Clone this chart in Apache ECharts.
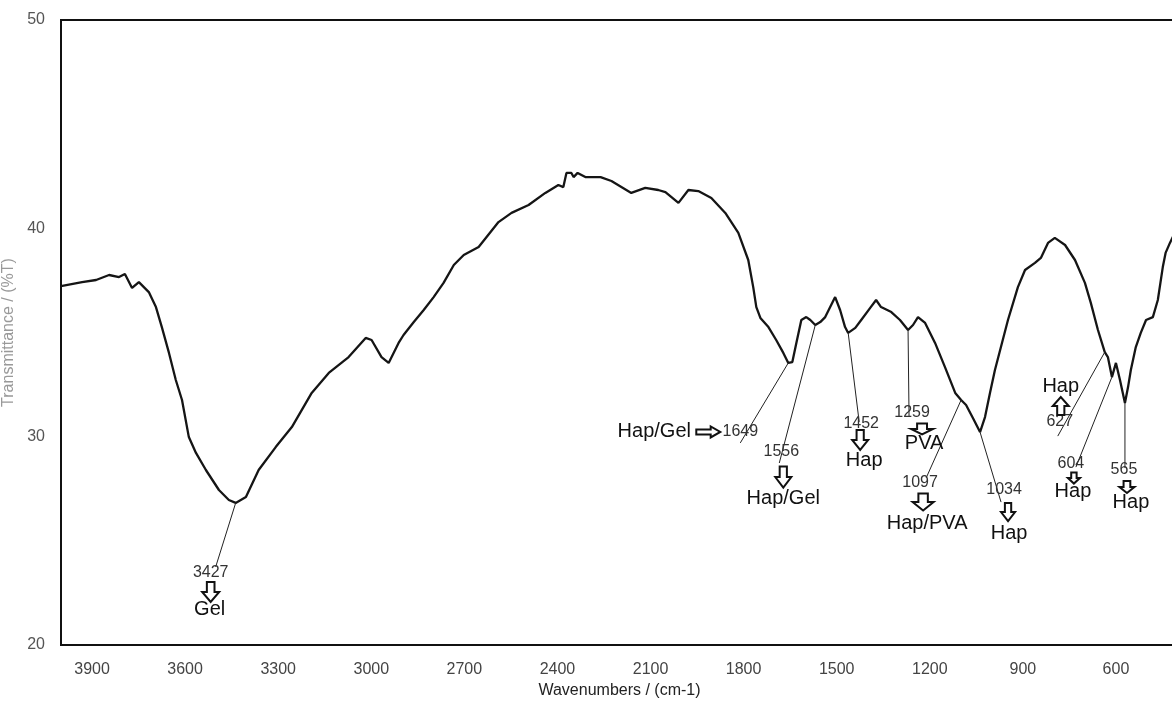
<!DOCTYPE html>
<html>
<head>
<meta charset="utf-8">
<script src="https://cdn.jsdelivr.net/npm/echarts@6/dist/echarts.min.js"></script>
<style>
html,body{margin:0;padding:0;background:#fff;}
#chart{width:1172px;height:705px;}
</style>
</head>
<body>
<div id="chart"></div>
<script>
// ---- Data ----
const wavenumbers = [4000,3932,3887,3845,3813,3794,3771,3749,3717,3694,
3675,3652,3630,3610,3588,3565,3533,3491,3459,3437,
3404,3363,3308,3256,3192,3137,3073,3018,2999,2967,
2944,2912,2896,2863,2831,2799,2767,2734,2702,2654,
2590,2548,2493,2439,2397,2381,2371,2355,2348,2335,
2310,2261,2226,2162,2117,2075,2052,2010,1978,1946,
1904,1859,1817,1785,1769,1759,1746,1720,1695,1672,
1656,1643,1630,1614,1598,1585,1569,1553,1537,1521,
1505,1489,1473,1463,1440,1421,1392,1373,1357,1324,
1296,1270,1254,1238,1215,1183,1151,1118,1099,1083,
1061,1038,1022,1006,990,948,916,893,861,842,
819,797,764,732,700,681,658,636,626,613,
600,587,571,561,552,536,520,503,481,465,
449,440,426,413];
const transmittance = [37.23,37.42,37.52,37.76,37.66,37.81,37.14,37.42,36.94,36.22,
35.26,34.02,32.72,31.76,29.98,29.22,28.40,27.44,26.96,26.82,
27.10,28.40,29.50,30.46,32.10,33.06,33.82,34.74,34.64,33.82,
33.54,34.50,34.88,35.50,36.08,36.70,37.38,38.24,38.72,39.10,
40.30,40.74,41.12,41.70,42.08,41.98,42.66,42.66,42.46,42.66,
42.46,42.46,42.27,41.70,41.94,41.84,41.74,41.22,41.84,41.79,
41.46,40.74,39.78,38.48,37.18,36.22,35.70,35.26,34.64,34.02,
33.54,33.58,34.50,35.60,35.74,35.60,35.36,35.50,35.74,36.22,
36.70,36.08,35.26,34.98,35.22,35.60,36.18,36.56,36.22,35.98,
35.60,35.12,35.36,35.74,35.46,34.50,33.34,32.10,31.76,31.52,
30.90,30.22,30.94,32.10,33.20,35.60,37.18,38.00,38.34,38.58,
39.30,39.54,39.20,38.48,37.38,36.42,35.12,34.06,33.82,32.86,
33.54,32.72,31.62,32.38,33.20,34.30,34.98,35.60,35.74,36.56,
38.14,38.82,39.30,39.70];

const xTickLabels = [3900,3600,3300,3000,2700,2400,2100,1800,1500,1200,900,600];
const yTickLabels = [20,30,40,50];

const peakLabels  = ['3427','1649','1556','1452','1259','1097','1034','627','604','565'];
const peakGroups  = ['Gel','Hap/Gel','Hap/Gel','Hap','PVA','Hap/PVA','Hap','Hap','Hap','Hap'];
const peakAnchorWn = [3437,1656,1569,1463,1270,1099,1038,636,613,571];
const peakAnchorT  = [26.82,33.54,35.36,34.98,35.12,31.76,30.22,34.06,32.86,31.62];

// ---- Layout of annotations (pixel offsets from the anchored peak) ----
const annLayout = [
  {lead:[-20,64], num:[-25,70], arrow:{dir:'down',at:[-25,89],w:17,h:20}, name:[-26,107]},
  {lead:[-48,80], num:[-48,69], arrow:{dir:'right',at:[-80,69],w:24,h:11}, name:[-134,69]},
  {lead:[-36,138], num:[-34,127], arrow:{dir:'down',at:[-32,152],w:16,h:21}, name:[-32,173]},
  {lead:[11,89], num:[13,91], arrow:{dir:'down',at:[12,107],w:16,h:20}, name:[16,128]},
  {lead:[1,87], num:[4,83], arrow:{dir:'down',at:[14,99],w:22,h:11}, name:[16,113]},
  {lead:[-35,78], num:[-41,83], arrow:{dir:'down',at:[-38,102],w:21,h:17}, name:[-34,123]},
  {lead:[21,70], num:[24,58], arrow:{dir:'down',at:[28,80],w:14,h:18}, name:[29,101]},
  {lead:[-47,84], num:[-45,70], arrow:{dir:'up',at:[-44,54],w:16,h:18}, name:[-44,34]},
  {lead:[-36,90], num:[-41,87], arrow:{dir:'down',at:[-38,101],w:12,h:11}, name:[-39,114]},
  {lead:[0,65], num:[-1,67], arrow:{dir:'down',at:[2,84],w:15,h:12}, name:[6,100]}
];

const chart = echarts.init(document.getElementById('chart'), null, {renderer:'canvas'});

const seriesData = wavenumbers.map((w,i)=>[w, transmittance[i]]);

const option = {
  backgroundColor:'#ffffff',
  animation:false,
  grid:{left:61, top:20, right:-6, bottom:60, containLabel:false, outerBoundsMode:'none',
        show:true, borderColor:'#111', borderWidth:2, backgroundColor:'transparent'},
  xAxis:{
    type:'value', min:400, max:4000, interval:100, inverse:true,
    name:'Wavenumbers / (cm-1)', nameLocation:'middle', nameGap:36,
    nameTextStyle:{fontFamily:'Liberation Sans', fontSize:16, color:'#222'},
    axisLine:{show:true, lineStyle:{color:'#111', width:2}},
    axisTick:{show:false},
    splitLine:{show:false},
    axisLabel:{
      margin:17, fontFamily:'Liberation Sans', fontSize:16, color:'#444',
      formatter:(v)=> xTickLabels.indexOf(v) >= 0 ? String(v) : ''
    }
  },
  yAxis:{
    type:'value', min:20, max:50, interval:10,
    name:'Transmittance / (%T)', nameLocation:'middle', nameGap:43,
    nameTextStyle:{fontFamily:'Liberation Sans', fontSize:16, color:'#999'},
    axisLine:{show:true, lineStyle:{color:'#111', width:2}},
    axisTick:{show:false},
    splitLine:{show:false},
    axisLabel:{
      margin:16, fontFamily:'Liberation Sans', fontSize:16, color:'#555',
      formatter:(v)=> yTickLabels.indexOf(v) >= 0 ? String(v) : ''
    }
  },
  series:[{
    type:'line', data:seriesData, showSymbol:false, symbol:'none',
    lineStyle:{color:'#151515', width:2.3}, smooth:false, clip:true
  }]
};
chart.setOption(option);

function arrowPoints(dir, w, h){
  let pts;
  if(dir==='down' || dir==='up'){
    const sw = w*0.45, hh = h*0.5;
    pts = [[-sw/2,-h/2],[sw/2,-h/2],[sw/2,h/2-hh],[w/2,h/2-hh],[0,h/2],[-w/2,h/2-hh],[-sw/2,h/2-hh]];
    if(dir==='up') pts = pts.map(p=>[p[0],-p[1]]);
  } else {
    const sh = h*0.45, hl = w*0.4;
    pts = [[-w/2,-sh/2],[w/2-hl,-sh/2],[w/2-hl,-h/2],[w/2,0],[w/2-hl,h/2],[w/2-hl,sh/2],[-w/2,sh/2]];
  }
  return pts;
}

const graphics = [];
peakLabels.forEach((lab, i)=>{
  const p = chart.convertToPixel({gridIndex:0}, [peakAnchorWn[i], peakAnchorT[i]]);
  const L = annLayout[i];
  graphics.push({type:'line', silent:true, z:5,
    shape:{x1:p[0], y1:p[1], x2:p[0]+L.lead[0], y2:p[1]+L.lead[1]},
    style:{stroke:'#222', lineWidth:1}});
  graphics.push({type:'text', z:6, x:p[0]+L.num[0], y:p[1]+L.num[1],
    style:{text:lab, fontFamily:'Liberation Sans', fontSize:16, fill:'#333', align:'center', verticalAlign:'middle'}});
  const a = L.arrow;
  const pts = arrowPoints(a.dir, a.w, a.h).map(q=>[q[0]+p[0]+a.at[0], q[1]+p[1]+a.at[1]]);
  graphics.push({type:'polygon', z:6, shape:{points:pts},
    style:{fill:'#fff', stroke:'#111', lineWidth:2, lineJoin:'miter'}});
  graphics.push({type:'text', z:6, x:p[0]+L.name[0], y:p[1]+L.name[1],
    style:{text:peakGroups[i], fontFamily:'Liberation Sans', fontSize:20, fill:'#111', align:'center', verticalAlign:'middle'}});
});
chart.setOption({graphic:graphics});
</script>
</body>
</html>
